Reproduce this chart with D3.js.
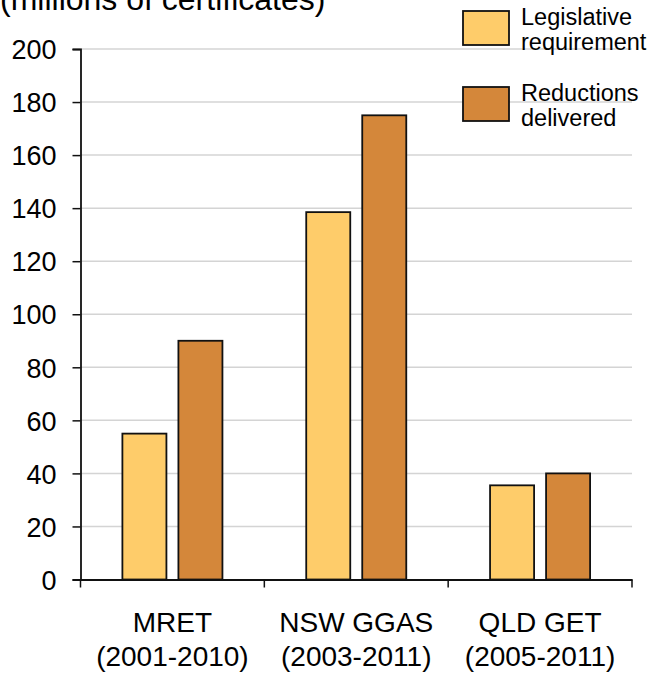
<!DOCTYPE html>
<html><head><meta charset="utf-8">
<script src="https://cdn.jsdelivr.net/npm/d3@7"></script>
<style>body{margin:0;background:#fff}svg{display:block}text{font-family:"Liberation Sans",Arial,sans-serif;fill:#000}</style>
</head><body>
<script>
const categories = ["MRET|(2001-2010)", "NSW GGAS|(2003-2011)", "QLD GET|(2005-2011)"];
const seriesNames = ["Legislative|requirement", "Reductions|delivered"];
const legislative = [55, 138.5, 35.5];
const delivered = [90, 175, 40];
const yTicks = [0, 20, 40, 60, 80, 100, 120, 140, 160, 180, 200];
const yTitle = "(millions of certificates)";
const colors = ["#FECC6A", "#D4873A"];

const W = 653, H = 673;
const svg = d3.select("body").append("svg").attr("width", W).attr("height", H);
const mLeft = 80.5, mRight = 632, mTop = 49, mBottom = 579.5;

const x = d3.scaleBand().domain(categories).range([mLeft, mRight]);
const xs = d3.scaleBand().domain([0, 1]).range([0, x.bandwidth()]).paddingInner(0.214).paddingOuter(0.748);
const y = d3.scaleLinear().domain([0, 200]).range([mBottom, mTop]);

// gridlines
svg.append("g").selectAll("line").data(yTicks.filter(d => d > 0)).join("line")
  .attr("x1", mLeft).attr("x2", mRight).attr("y1", d => y(d)).attr("y2", d => y(d))
  .attr("stroke", "#d4d4d4").attr("stroke-width", 1.5);

// bars
const data = categories.map((c, i) => ({c, v: [legislative[i], delivered[i]]}));
const g = svg.append("g").selectAll("g").data(data).join("g").attr("transform", d => `translate(${x(d.c)},0)`);
g.selectAll("rect").data(d => d.v.map((v, j) => ({v, j}))).join("rect")
  .attr("x", d => xs(d.j)).attr("width", xs.bandwidth())
  .attr("y", d => y(d.v)).attr("height", d => y(0) - y(d.v))
  .attr("fill", d => colors[d.j]).attr("stroke", "#111").attr("stroke-width", 1.8);

// y axis
const ya = svg.append("g").attr("transform", `translate(${mLeft},0)`)
  .call(d3.axisLeft(y).tickValues(yTicks).tickSize(8).tickPadding(16));
ya.select(".domain").attr("stroke", "#111").attr("stroke-width", 1.8);
ya.selectAll(".tick line").attr("stroke", "#111").attr("stroke-width", 1.5);
ya.selectAll(".tick text").attr("font-size", 27).attr("font-family", "Liberation Sans, Arial, sans-serif").attr("dy", "0.36em");

// x axis
const xa = svg.append("g").attr("transform", `translate(0,${mBottom})`)
  .call(d3.axisBottom(x).tickSize(0).tickFormat(""));
xa.select(".domain").attr("stroke", "#111").attr("stroke-width", 1.8);
const bounds = [mLeft, ...categories.map(c => x(c) + x.bandwidth())];
svg.append("g").selectAll("line").data(bounds).join("line")
  .attr("x1", d => d).attr("x2", d => d).attr("y1", mBottom).attr("y2", mBottom + 8)
  .attr("stroke", "#111").attr("stroke-width", 1.5);
categories.forEach(c => {
  const t = svg.append("text").attr("text-anchor", "middle").attr("font-size", 28);
  c.split("|").forEach((s, k) => t.append("tspan").attr("x", x(c) + x.bandwidth() / 2).attr("y", 632 + k * 34).text(s));
});

// title
svg.append("text").attr("x", 0).attr("y", 10).attr("font-size", 32).text(yTitle);

// legend
seriesNames.forEach((s, i) => {
  const ly = 11 + i * 76;
  svg.append("rect").attr("x", 463).attr("y", ly).attr("width", 46).attr("height", 34)
    .attr("fill", colors[i]).attr("stroke", "#111").attr("stroke-width", 1.8);
  const t = svg.append("text").attr("font-size", 23.5);
  s.split("|").forEach((p, k) => t.append("tspan").attr("x", 521).attr("y", ly + 14 + k * 25).text(p));
});
</script>
</body></html>
